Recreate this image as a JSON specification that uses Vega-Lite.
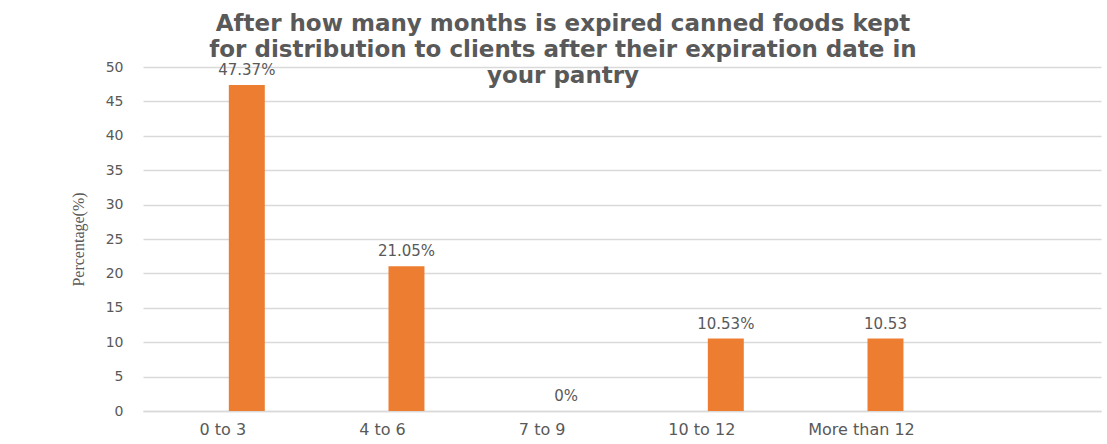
{
  "$schema": "https://vega.github.io/schema/vega-lite/v6.json",
  "width": 958,
  "height": 344,
  "autosize": {"type": "none"},
  "padding": {"left": 143, "top": 67, "right": 6, "bottom": 33},
  "background": "white",
  "title": {
    "text": ["After how many months is expired canned foods kept", "for distribution to clients after their expiration date in", "your pantry"],
    "font": "DejaVu Sans",
    "fontSize": 23,
    "fontWeight": "bold",
    "color": "#595959",
    "anchor": "middle",
    "dx": -59,
    "lineHeight": 26,
    "baseline": "top",
    "dy": 32
  },
  "config": {
    "view": {"stroke": null},
    "font": "DejaVu Sans"
  },
  "data": {
    "values": [
      {"category": "0 to 3", "series": "Percentage", "value": 47.37, "label": "47.37%"},
      {"category": "4 to 6", "series": "Percentage", "value": 21.05, "label": "21.05%"},
      {"category": "7 to 9", "series": "Percentage", "value": 0, "label": "0%"},
      {"category": "10 to 12", "series": "Percentage", "value": 10.53, "label": "10.53%"},
      {"category": "More than 12", "series": "Percentage", "value": 10.53, "label": "10.53"}
    ]
  },
  "encoding": {
    "x": {
      "field": "category",
      "type": "nominal",
      "sort": null,
      "scale": {"domain": ["0 to 3", "4 to 6", "7 to 9", "10 to 12", "More than 12", " "], "paddingInner": 0, "paddingOuter": 0},
      "axis": {
        "title": null,
        "labelAngle": 0,
        "labelFontSize": 16,
        "labelColor": "#595959",
        "labelPadding": 10,
        "ticks": false,
        "domainColor": "#D9D9D9",
        "domainWidth": 1.5,
        "grid": false
      }
    },
    "xOffset": {
      "field": "series",
      "type": "nominal",
      "scale": {"domain": ["Blank", "Percentage"], "paddingInner": 0.25, "paddingOuter": 0.79}
    },
    "y": {
      "field": "value",
      "type": "quantitative",
      "scale": {"domain": [0, 50], "nice": false},
      "axis": {
        "title": "Percentage(%)",
        "titleFont": "Liberation Serif",
        "titleFontWeight": "normal",
        "titleFontSize": 16,
        "titleColor": "#595959",
        "titlePadding": 19,
        "values": [0, 5, 10, 15, 20, 25, 30, 35, 40, 45, 50],
        "labelFontSize": 14,
        "labelColor": "#595959",
        "labelPadding": 20,
        "ticks": false,
        "domain": false,
        "grid": true,
        "gridColor": "#D9D9D9",
        "gridWidth": 1.5
      }
    }
  },
  "layer": [
    {"mark": {"type": "bar", "color": "#ED7D31"}},
    {
      "mark": {"type": "text", "baseline": "bottom", "dy": -7, "fontSize": 15, "color": "#595959"},
      "encoding": {"text": {"field": "label"}}
    }
  ]
}
